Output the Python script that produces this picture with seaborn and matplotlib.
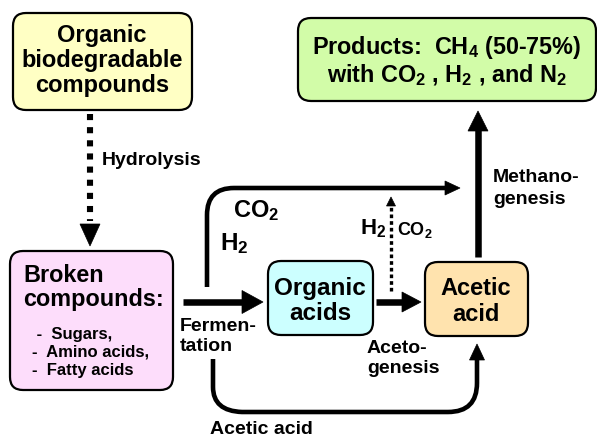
import matplotlib
matplotlib.use("Agg")
import numpy as np
import matplotlib.pyplot as plt
import seaborn as sns
from matplotlib.patches import FancyBboxPatch, PathPatch, Polygon
from matplotlib.path import Path

# diagram text
source_lines = ["Organic", "biodegradable", "compounds"]
product_lines = ["Products:  CH$_4$ (50-75%)", "with CO$_2$ , H$_2$ , and N$_2$"]
broken_lines = ["Broken", "compounds:"]
broken_items = [" -  Sugars,", "-  Amino acids,", "-  Fatty acids"]
organic_lines = ["Organic", "acids"]
acetic_lines = ["Acetic", "acid"]
hydrolysis = ["Hydrolysis"]
fermentation = ["Fermen-", "tation"]
acetogenesis = ["Aceto-", "genesis"]
methanogenesis = ["Methano-", "genesis"]
acetic_path = ["Acetic acid"]
co2 = "CO$_2$"
h2 = "H$_2$"

sns.set_style("white")
plt.rcParams["font.family"] = ["Liberation Sans", "DejaVu Sans"]
plt.rcParams["font.weight"] = "bold"
plt.rcParams["text.color"] = "black"
plt.rcParams["mathtext.fontset"] = "custom"
plt.rcParams["mathtext.rm"] = "Liberation Sans:bold"
plt.rcParams["mathtext.it"] = "Liberation Sans:bold"
plt.rcParams["mathtext.bf"] = "Liberation Sans:bold"
plt.rcParams["mathtext.default"] = "rm"

fig = plt.figure(figsize=(5.97, 4.39), dpi=100)
ax = fig.add_axes([0, 0, 1, 1])
ax.set_xlim(0, 597)
ax.set_ylim(439, 0)
ax.axis("off")


def box(x0, y0, x1, y1, color):
    ax.add_patch(FancyBboxPatch((x0, y0), x1 - x0, y1 - y0,
                                boxstyle="round,pad=0,rounding_size=13",
                                fc=color, ec="black", lw=1.6, zorder=2))


def lines(x, y0, step, texts, size, ha="left"):
    for i, t in enumerate(texts):
        ax.text(x, y0 + i * step, t, ha=ha, va="baseline", fontsize=size,
                fontweight="bold", color="black", zorder=4)


def head(tip, direction, length, width):
    d = np.array(direction, dtype=float)
    d /= np.hypot(*d)
    n = np.array([-d[1], d[0]])
    tip = np.array(tip, dtype=float)
    base = tip - d * length
    ax.add_patch(Polygon([tip, base + n * width / 2, base - n * width / 2],
                         closed=True, fc="black", ec="black", lw=0.5, zorder=3))


def shaft(verts, codes, lw, ls="-"):
    ax.add_patch(PathPatch(Path(verts, codes), fill=False, ec="black", lw=lw,
                           linestyle=ls, capstyle="butt", joinstyle="round",
                           zorder=3))


box(13, 14, 192, 111, "#FFFFC4")
box(298, 19, 596, 102, "#D2FCA8")
box(10, 252, 173, 391, "#FDDDFB")
box(268, 262, 373, 336, "#CCFFFF")
box(425, 263, 528, 337, "#FFE3AE")

lines(102, 42, 25, source_lines, 17, ha="center")
lines(447, 54, 28, product_lines, 16.8, ha="center")
lines(23, 282, 24, broken_lines, 16.8)
lines(32, 339, 18, broken_items, 12)
lines(320, 295, 25, organic_lines, 17.5, ha="center")
lines(476, 295, 26, acetic_lines, 17, ha="center")

lines(102, 165, 0, hydrolysis, 14)
lines(180, 331, 20, fermentation, 14)
lines(367, 353, 20, acetogenesis, 14)
lines(493, 182, 22, methanogenesis, 14)
lines(261, 434, 0, acetic_path, 14, ha="center")

lines(233, 217, 0, [co2], 17)
lines(220, 250, 0, [h2], 17.5)
lines(360, 234, 0, [h2], 16)
lines(397, 235, 0, [co2], 13)

L, M, C = Path.LINETO, Path.MOVETO, Path.CURVE3

# hydrolysis (dotted)
shaft([(90, 115), (90, 222)], [M, L], lw=4.4, ls=(0, (1.0, 1.15)))
head((90, 247), (0, 1), 22, 20)

# fermentation
shaft([(183, 303), (244, 303)], [M, L], lw=4.7)
head((263, 303), (1, 0), 21, 23)
# acetogenesis
shaft([(376, 303), (404, 303)], [M, L], lw=4.7)
head((421, 303), (1, 0), 19, 20)
# methanogenesis
shaft([(478, 258), (478, 130)], [M, L], lw=4.7)
head((478, 112), (0, -1), 20, 20)

# dotted H2 / CO2 up
shaft([(391, 292), (391, 206)], [M, L], lw=2.4, ls=(0, (1.1, 0.9)))
head((391, 198), (0, -1), 9, 9)

# top curve
shaft([(207, 288), (207, 216), (207, 189), (234, 189), (447, 189)],
      [M, L, C, C, L], lw=3.3)
head((460, 189), (1, 0), 15, 14)

# bottom curve
shaft([(213, 360), (213, 388), (213, 412), (242, 413), (448, 413),
       (477, 413), (477, 384), (477, 360)],
      [M, L, C, C, L, C, C, L], lw=3.3)
head((477, 345), (0, -1), 16, 15)

fig.savefig("out.png", dpi=100)
